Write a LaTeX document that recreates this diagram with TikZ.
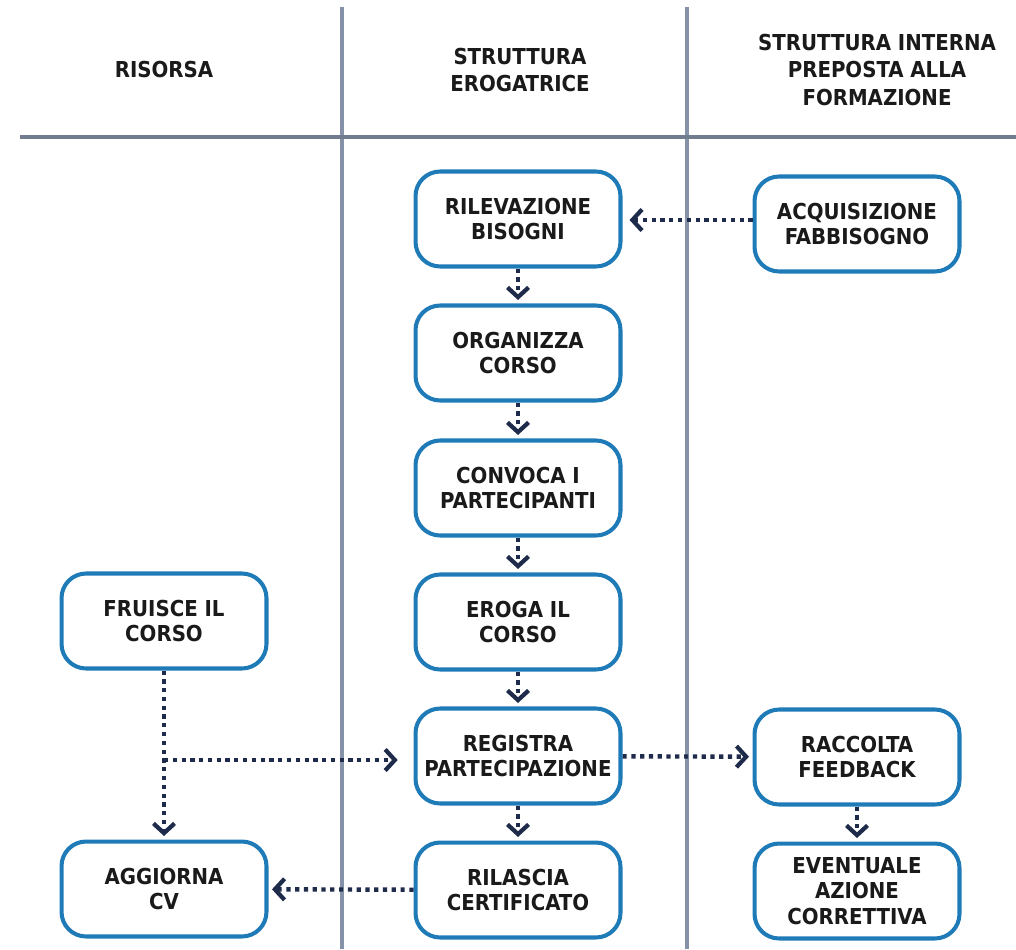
\documentclass[tikz,border=0pt]{standalone}
\usepackage{fontspec}
\setmainfont{DejaVu Sans Condensed}
\usepackage{tikz}
\usetikzlibrary{arrows.meta}
\definecolor{lane}{HTML}{8592A8}
\definecolor{boxblue}{HTML}{1F7BB8}
\definecolor{navy}{HTML}{1F2B4A}
\definecolor{ink}{HTML}{1A1A1A}
\tikzset{>={Straight Barb[length=5.5pt,width=12pt,line width=2.4pt]}}
\tikzset{
    task/.style={draw=boxblue, line width=2.3pt, rounded corners=14pt, fill=white,
        minimum width=4.1cm, minimum height=1.9cm, align=center, text=ink,
        font=\bfseries\fontsize{12.5}{14.4}\selectfont},
    head/.style={align=center, text=ink, font=\bfseries\fontsize{12.5}{15.9}\selectfont},
    flow/.style={->, navy, line width=2.5pt, dash pattern=on 2.4pt off 2.6pt, shorten >=2pt},
}

\begin{document}
\begin{tikzpicture}[x=0.02cm, y=-0.02cm]
    \useasboundingbox[fill=white](0, 0) rectangle (1016, 949);
    % swimlanes
    \draw[lane, line width=2pt](342, 7)--(342, 949);
    \draw[lane, line width=2pt](687, 7)--(687, 949);
    \draw[lane!85!black, line width=2.3pt](20, 137)--(1016, 137);
    \node[head](hres)at(164, 70) {RISORSA};
    \node[head](hero)at(520, 70) {STRUTTURA\\EROGATRICE};
    \node[head](hint)at(877, 70) {STRUTTURA INTERNA\\PREPOSTA ALLA\\FORMAZIONE};
    % activities
    \node[task](ril)at(518, 219) {RILEVAZIONE\\BISOGNI};
    \node[task](acq)at(857, 224) {ACQUISIZIONE\\FABBISOGNO};
    \node[task](org)at(518, 353) {ORGANIZZA\\CORSO};
    \node[task](conv)at(518, 488) {CONVOCA I\\PARTECIPANTI};
    \node[task](ero)at(518, 622) {EROGA IL\\CORSO};
    \node[task](fru)at(164, 621) {FRUISCE IL\\CORSO};
    \node[task](reg)at(518, 756) {REGISTRA\\PARTECIPAZIONE};
    \node[task](fb)at(857, 757) {RACCOLTA\\FEEDBACK};
    \node[task](cert)at(518, 890) {RILASCIA\\CERTIFICATO};
    \node[task](cv)at(164, 889) {AGGIORNA\\CV};
    \node[task](corr)at(857, 891) {EVENTUALE\\AZIONE\\CORRETTIVA};
    \coordinate(fork)at(164, 760);
    % flows
    \draw[flow, shorten >=4pt](acq.west|-220, 220)--(ril.east|-220, 220);
    \draw[flow](ril)--(org);
    \draw[flow](org)--(conv);
    \draw[flow](conv)--(ero);
    \draw[flow](ero)--(reg);
    \draw[flow](reg)--(cert);
    \draw[flow](fru)--(cv);
    \draw[flow, shorten >=9pt](fork)--(fork-|reg.west);
    \draw[flow](reg)--(fb);
    \draw[flow](fb)--(corr);
    \draw[flow](cert)--(cv);
\end{tikzpicture}
\end{document}
